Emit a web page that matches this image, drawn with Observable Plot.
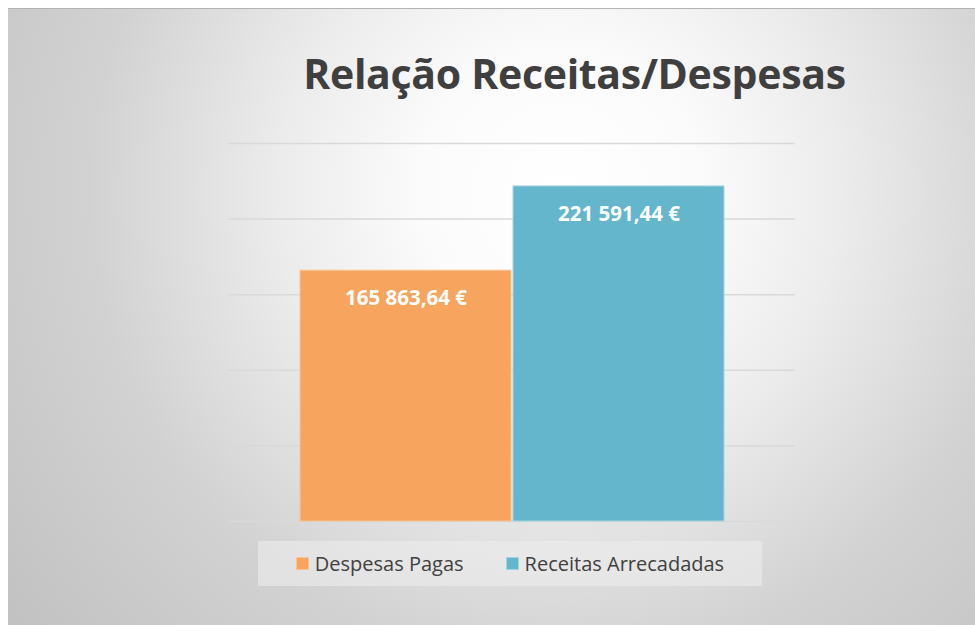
<!DOCTYPE html>
<html>
<head>
<meta charset="utf-8">
<script src="https://cdn.jsdelivr.net/npm/d3@7"></script>
<script src="https://cdn.jsdelivr.net/npm/@observablehq/plot@0.6"></script>
<style>
  html, body { margin: 0; padding: 0; background: #ffffff; width: 975px; height: 625px; overflow: hidden; }
  #frame {
    position: absolute; left: 8px; top: 8px; width: 967px; height: 617px;
    border-top: 1px solid #b3b3b3;
    background: radial-gradient(circle at 552px 182px, #ffffff 0px, #fbfbfb 140px, #ececec 280px, #d2d2d2 470px, #c0c0c0 720px);
    font-family: "Open Sans", sans-serif;
  }
  #title {
    position: absolute; left: 0; width: 100%; top: 36px; text-align: center;
    padding-left: 166px; box-sizing: border-box;
    font-size: 41px; font-weight: 700; color: #3f3f3f; letter-spacing: -0.3px;
    white-space: nowrap;
  }
  #chart { position: absolute; left: -8px; top: -8px; }
  #legend {
    position: absolute; left: 250px; top: 532px; width: 504px; height: 45px;
    background: rgba(236,236,236,0.6);
    display: flex; align-items: center; justify-content: center; gap: 42px;
    font-size: 20px; color: #404040;
  }
  .item { display: flex; align-items: center; gap: 6px; }
  .sw { width: 13px; height: 13px; box-sizing: border-box; }
</style>
</head>
<body>
<div id="frame">
  <div id="chart"></div>
  <div id="title">Relação Receitas/Despesas</div>
  <div id="legend"></div>
</div>
<script>
const categories = ["Despesas Pagas", "Receitas Arrecadadas"];
const values = [165863.64, 221591.44];
const labels = ["165 863,64 €", "221 591,44 €"];
const colors = ["#f6a45e", "#64b6cc"];
const borderColors = ["#f9c393", "#a5d4e1"];
const gridTicks = [0, 50000, 100000, 150000, 200000, 250000];

const data = categories.map((c, i) => ({category: c, value: values[i], label: labels[i]}));

const plot = Plot.plot({
  width: 975,
  height: 625,
  marginLeft: 228,
  marginRight: 180,
  marginTop: 142,
  marginBottom: 105,
  style: {background: "transparent", overflow: "visible"},
  x: {domain: categories, paddingInner: 0.01, paddingOuter: 0.33, axis: null},
  y: {domain: [0, 250000], axis: null},
  color: {domain: categories, range: colors},
  marks: [
    Plot.ruleY(gridTicks, {stroke: "#d9d9d9", strokeWidth: 1.5}),
    Plot.barY(data, {
      x: "category", y: "value",
      fill: "category",
      stroke: d => borderColors[categories.indexOf(d.category)],
      strokeWidth: 1
    }),
    Plot.text(data, {
      x: "category", y: "value", text: "label",
      dy: 28, fill: "#ffffff", fontSize: 20.5, fontWeight: 700,
      fontFamily: "Open Sans, sans-serif"
    })
  ]
});
document.getElementById("chart").appendChild(plot);

const legend = document.getElementById("legend");
categories.forEach((c, i) => {
  const item = document.createElement("div");
  item.className = "item";
  const sw = document.createElement("div");
  sw.className = "sw";
  sw.style.background = colors[i];
  sw.style.border = "1px solid " + borderColors[i];
  const t = document.createElement("span");
  t.textContent = c;
  item.appendChild(sw);
  item.appendChild(t);
  legend.appendChild(item);
});
</script>
</body>
</html>
